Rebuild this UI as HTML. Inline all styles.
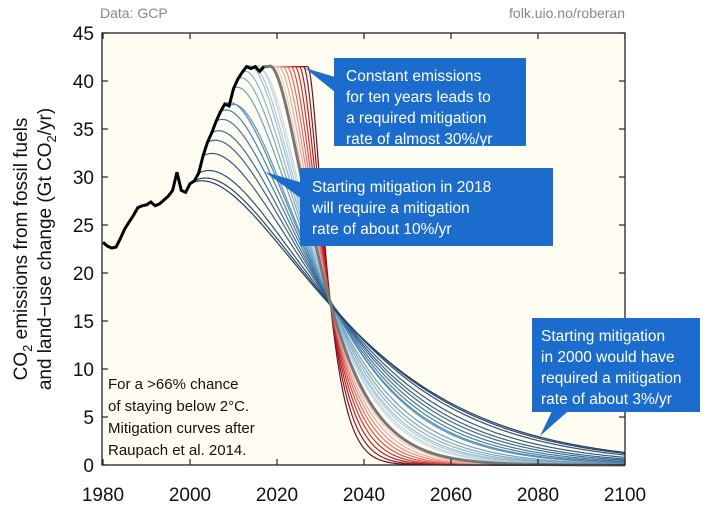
<!DOCTYPE html>
<html><head><meta charset="utf-8"><style>
body{margin:0;background:#fff;}
svg{display:block;font-family:"Liberation Sans",sans-serif;}
</style></head><body>
<svg id="s" width="712" height="520" viewBox="0 0 712 520">
<rect x="102" y="33" width="523" height="432" fill="#fffdf1"/>
<g id="curves" fill="none"></g>
<rect x="102" y="33" width="523" height="432" fill="none" stroke="#222" stroke-width="1.3"/>
<g id="ticks" stroke="#222" stroke-width="1.2"></g>
<g id="labels" font-size="19" fill="#111"></g>
<text x="100" y="18" font-size="14" fill="#888">Data: GCP</text>
<text x="625" y="18" font-size="14" fill="#888" text-anchor="end">folk.uio.no/roberan</text>
<g font-size="19" fill="#111" text-anchor="middle">
<text transform="translate(27,249) rotate(-90)">CO<tspan font-size="13" dy="5">2</tspan><tspan dy="-5"> emissions from fossil fuels</tspan></text>
<text transform="translate(51,249) rotate(-90)">and land−use change (Gt CO<tspan font-size="13" dy="5">2</tspan><tspan dy="-5">/yr)</tspan></text>
</g>
<g font-size="15" fill="#111">
<text x="108" y="389">For a &gt;66% chance</text>
<text x="108" y="411">of staying below 2°C.</text>
<text x="108" y="433">Mitigation curves after</text>
<text x="108" y="455">Raupach et al. 2014.</text>
</g>
<g fill="#1b6ccc">
<rect x="334" y="58" width="192" height="88"/>
<polygon points="305,68 345,80 345,100"/>
<rect x="300" y="168" width="253" height="78"/>
<polygon points="265,172 310,185 310,205"/>
<rect x="532" y="318" width="168" height="94"/>
<polygon points="540,436 555,405 575,405"/>
</g>
<g font-size="15.5" fill="#fff">
<text x="346" y="81">Constant emissions</text>
<text x="346" y="102">for ten years leads to</text>
<text x="346" y="123">a required mitigation</text>
<text x="346" y="144">rate of almost 30%/yr</text>
<text x="312" y="192">Starting mitigation in 2018</text>
<text x="312" y="213">will require a mitigation</text>
<text x="312" y="234">rate of about 10%/yr</text>
<text x="541" y="341">Starting mitigation</text>
<text x="541" y="362">in 2000 would have</text>
<text x="541" y="383">required a mitigation</text>
<text x="541" y="404">rate of about 3%/yr</text>
</g>
</svg>
<script>
var X=function(t){return 103+(t-1980)*4.35;},Y=function(v){return 465-v*9.6;};
var H={1980:23.2,1981:22.8,1982:22.6,1983:22.7,1984:23.6,1985:24.6,1986:25.3,1987:26.0,1988:26.8,1989:27.0,1990:27.1,1991:27.4,1992:27.0,1993:27.2,1994:27.6,1995:28.0,1996:28.6,1997:30.5,1998:28.6,1999:28.4,2000:29.3,2001:29.6,2002:30.4,2003:32.2,2004:33.6,2005:34.6,2006:35.8,2007:36.8,2008:37.6,2009:37.4,2010:39.2,2011:40.2,2012:40.9,2013:41.5,2014:41.3,2015:41.5,2016:41.0,2017:41.5};
var ns="http://www.w3.org/2000/svg",cg=document.getElementById('curves');
function P(d,c,w){var p=document.createElementNS(ns,'path');p.setAttribute('d',d);p.setAttribute('stroke',c);p.setAttribute('stroke-width',w);cg.appendChild(p);}
function hist(t){return t<=2017?H[t]:41.5;}
var r=0.008;
function rem(m){return (2*m+r)/(m*m);}
var B=0;for(var t=2000;t<2018;t++)B+=hist(t);B+=41.5*rem(0.144);
function lerp(a,b,g){return 'rgb('+[0,1,2].map(function(i){return Math.round(a[i]+(b[i]-a[i])*g);}).join(',')+')';}
function col(s){
 if(s<2018){var f=(s-2000)/17;var a=[35,62,100],b=[75,135,180],c=[215,230,240];
  return f<0.45?lerp(a,b,f/0.45):lerp(b,c,(f-0.45)/0.55);}
 var f=(s-2019)/8;var a=[245,200,185],b=[200,30,30],c=[100,20,40];
 return f<0.7?lerp(a,b,f/0.7):lerp(b,c,(f-0.7)/0.3);}
function curve(s,c,w){
 var used=0;for(var t=2000;t<s;t++)used+=hist(t);
 var E0=hist(Math.min(s,2017)),R=B-used,target=R/E0;
 var lo=0.01,hi=3;for(var k=0;k<60;k++){var m=(lo+hi)/2;if(rem(m)>target)lo=m;else hi=m;}
 var m=(lo+hi)/2,d='';
 var st=Math.max(2000,Math.min(s,2017)-1);
 d+='M'+X(st)+','+Y(hist(st));
 for(var t=st+1;t<=s;t++)d+='L'+X(t)+','+Y(hist(t));
 for(var tau=0.25;s+tau<=2100;tau+=0.25){var v=E0*(1+(r+m)*tau)*Math.exp(-m*tau);d+='L'+X(s+tau).toFixed(2)+','+Y(v).toFixed(2);}
 P(d,c,w);}
for(var s=2027;s>=2019;s--)curve(s,col(s),1.2);
for(var s=2016;s>=2000;s--)curve(s,col(s),1.2);
curve(2018,'#777',3);
var d='M'+X(1980)+','+Y(H[1980]);for(var t=1981;t<=2017;t++)d+='L'+X(t)+','+Y(H[t]);P(d,'#000',3);
var tg=document.getElementById('ticks'),lg=document.getElementById('labels');
function L(x1,y1,x2,y2){var l=document.createElementNS(ns,'line');l.setAttribute('x1',x1);l.setAttribute('y1',y1);l.setAttribute('x2',x2);l.setAttribute('y2',y2);tg.appendChild(l);}
function T(x,y,s,a){var e=document.createElementNS(ns,'text');e.setAttribute('x',x);e.setAttribute('y',y);e.setAttribute('text-anchor',a);e.textContent=s;lg.appendChild(e);}
for(var v=0;v<=45;v+=5){var y=Y(v);L(102,y,108,y);L(625,y,619,y);T(94,y+7,v,'end');}
for(var t=1980;t<=2100;t+=20){var x=X(t);L(x,465,x,459);L(x,33,x,39);T(x,501,t,'middle');}
</script>
</body></html>
